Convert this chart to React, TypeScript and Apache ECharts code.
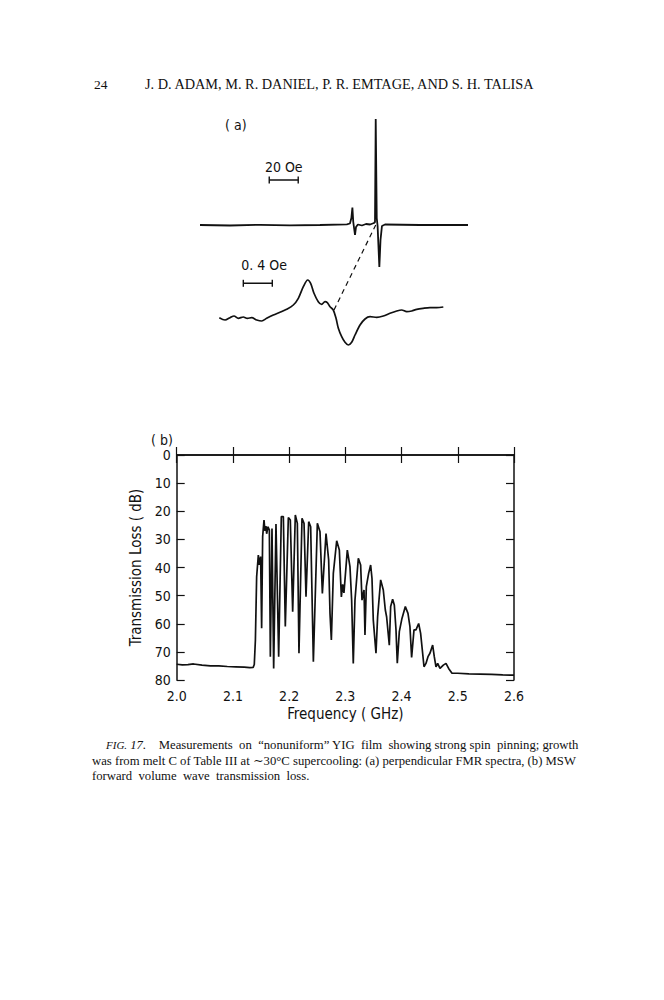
import React, { useEffect, useRef } from "react";
import * as echarts from "echarts";

const LETTER = "'Liberation Sans Narrow', 'DejaVu Sans Condensed', 'Liberation Sans', sans-serif";
const SERIF = "'Liberation Serif', 'DejaVu Serif', serif";

// (a) upper FMR spectrum: field (Oe) vs derivative signal (arb. units)
const upperField = [0, 20.7, 41.4, 62.1, 82.8, 101.4, 103.5, 104.5, 105.2, 105.8, 107, 107.7, 109, 111.8, 114.6, 117.4, 120.1, 120.8, 121.3, 122, 122.6, 123.8, 124.6, 125.6, 127.7, 151.8, 185];
const upperSignal = [0, -0.5, 0.2, -0.3, 0, 0.7, 1.5, 7, 17.5, 3, -10, -2, 0.5, -0.5, 1, 0.5, 2, 3, 106, 7, -1, -42, -15, -1, 0.5, 0, 0];
const upperBar = [47.8, 67.8];
const upperBarLevel = 45;

// (a) lower FMR spectrum (expanded)
const lowerField = [0.018, 0.097, 0.166, 0.221, 0.28, 0.349, 0.405, 0.465, 0.534, 0.603, 0.671, 0.763, 0.855, 0.947, 1.039, 1.108, 1.177, 1.237, 1.278, 1.324, 1.383, 1.43, 1.476, 1.508, 1.545, 1.59, 1.628, 1.66, 1.706, 1.752, 1.797, 1.844, 1.89, 1.959, 2.028, 2.097, 2.189, 2.28, 2.372, 2.465, 2.534, 2.603, 2.672, 2.741, 2.832, 2.924, 3.016, 3.108];
const lowerSignal = [0.3, -2, 0.3, 2, -0.3, 1, -0.3, 0.3, -2, -3, -0.3, 3, 5.7, 8.7, 13, 19.7, 31.3, 38, 34.7, 24.7, 16.3, 13.7, 16.3, 15.3, 11.3, 8, -0.3, -10.3, -18.7, -24.3, -27, -24.3, -17, -7, -1, 1.3, 0.7, 2, 4.7, 7, 8, 6.3, 7, 8.7, 9.7, 10.3, 10.3, 11];
const lowerBar = [0.349, 0.749];
const lowerBarLevel = 34.7;
const dashFromLower = [1.6, 8];
const dashToUpper = [121.3, 0];

// (b) MSW transmission loss
const freqGHz = [
  2.0, 2.01, 2.02, 2.03, 2.045, 2.06, 2.075, 2.09, 2.105, 2.12, 2.13, 2.136, 2.138, 2.14, 2.1422,
  2.1452, 2.147, 2.1493, 2.1511, 2.1529, 2.1553, 2.157, 2.1588, 2.16, 2.1624, 2.1648, 2.1666, 2.1695,
  2.1725, 2.1766, 2.1814, 2.1861, 2.1897, 2.1932, 2.1986, 2.2021, 2.2063, 2.211, 2.2146, 2.2175,
  2.2229, 2.2265, 2.23, 2.2348, 2.2383, 2.2431, 2.2502, 2.2549, 2.2591, 2.2656, 2.2703, 2.2727,
  2.2751, 2.2786, 2.2846, 2.2893, 2.2929, 2.2952, 2.2975, 2.3035, 2.3082, 2.3112, 2.3141, 2.3171,
  2.3231, 2.3272, 2.3296, 2.3332, 2.3349, 2.3373, 2.3414, 2.345, 2.3474, 2.3497, 2.3545, 2.3574,
  2.3628, 2.3675, 2.3711, 2.3734, 2.3782, 2.3806, 2.3841, 2.3871, 2.3901, 2.3924, 2.396, 2.4007,
  2.4067, 2.4114, 2.4149, 2.4179, 2.4221, 2.4256, 2.4304, 2.4339, 2.4375, 2.4399, 2.4434, 2.447,
  2.4505, 2.4553, 2.4582, 2.4612, 2.4642, 2.4683, 2.4743, 2.479, 2.4837, 2.4897, 2.5, 2.52, 2.54,
  2.56, 2.58, 2.6,
];
const lossDb = [
  74.4, 74.6, 74.5, 74.3, 74.7, 75.0, 75.0, 75.2, 75.3, 75.4, 75.6, 75.5, 74.5, 65.8, 43.3,
  35.6, 39.1, 36.1, 61.6, 29, 23.1, 27, 25.3, 28, 25.5, 26.7, 71.7, 26.1,
  75.9, 24.5, 71.7, 21.9, 21.9, 61, 22.2, 23.1, 55.7, 21.3, 24.3, 70.5,
  22.5, 24.3, 50.4, 23.7, 25.5, 73.5, 24.3, 27.3, 49.2, 27.9, 37.3, 56.3,
  65.8, 42.1, 30.5, 33.8, 50.5, 46, 49, 33.8, 39.7, 51.6, 74.1, 51.6,
  36.7, 39.1, 51.6, 48, 64, 46.8, 42.1, 39.1, 43.9, 58.7, 70.5, 57.5,
  44.4, 48, 55.1, 57.5, 67.6, 53.9, 51.3, 53.3, 62.2, 74, 62.8, 58.1,
  53.9, 56.3, 61, 72, 62.2, 62.2, 59.9, 63.4, 70.5, 75.3, 74.1, 71.7,
  70.5, 67.6, 71.7, 75.3, 74.1, 75.9, 74.7, 74.1, 75.9, 77.6, 77.6, 77.8, 77.9,
  78.0, 78.2, 78.3,
];
const freqMin = 2.0;
const freqMax = 2.6;
const freqStep = 0.1;
const lossMin = 0;
const lossMax = 80;
const lossStep = 10;

const zip = (a: number[], b: number[]) => a.map((v, i) => [v, b[i]]);

export default function App() {
  const ref = useRef<HTMLDivElement>(null);
  useEffect(() => {
    const chart = echarts.init(ref.current!, null, { renderer: "svg" });
    const black = "#111";
    const hidden = { show: false };
    const frameAxis = {
      axisLine: { show: true, lineStyle: { color: black, width: 1.5 } },
      axisTick: { show: true, inside: true, length: 8, lineStyle: { color: black, width: 1.2 } },
      splitLine: { show: false },
    };
    chart.setOption({
      animation: false,
      backgroundColor: "#fff",
      grid: [
        { left: 200, top: 115, width: 268, height: 160 },
        { left: 218, top: 270, width: 228, height: 80 },
        { left: 176.7, top: 455, width: 337.3, height: 225 },
      ],
      xAxis: [
        { gridIndex: 0, type: "value", min: 0, max: 185, ...hidden },
        { gridIndex: 1, type: "value", min: 0, max: 3.145, ...hidden },
        {
          gridIndex: 2, type: "value", position: "bottom", min: freqMin, max: freqMax, interval: freqStep,
          ...frameAxis,
          axisLabel: {
            formatter: (v: number) => v.toFixed(1), color: black, fontFamily: LETTER, fontSize: 14, margin: 9,
          },
          name: "Frequency ( GHz)", nameLocation: "middle", nameGap: 26,
          nameTextStyle: { color: black, fontFamily: LETTER, fontSize: 15 },
        },
        {
          gridIndex: 2, type: "value", position: "top", min: freqMin, max: freqMax, interval: freqStep,
          ...frameAxis, axisLabel: { show: false },
        },
      ],
      yAxis: [
        { gridIndex: 0, type: "value", min: -50, max: 110, ...hidden },
        { gridIndex: 1, type: "value", min: -32, max: 48, ...hidden },
        {
          gridIndex: 2, type: "value", position: "left", inverse: true, min: lossMin, max: lossMax, interval: lossStep,
          ...frameAxis,
          axisLabel: { color: black, fontFamily: LETTER, fontSize: 14, margin: 6 },
          name: "Transmission Loss ( dB)", nameLocation: "middle", nameGap: 27, nameRotate: 90,
          nameTextStyle: { color: black, fontFamily: LETTER, fontSize: 15 },
        },
        {
          gridIndex: 2, type: "value", position: "right", inverse: true, min: lossMin, max: lossMax, interval: lossStep,
          ...frameAxis, axisLabel: { show: false },
        },
      ],
      series: [
        {
          type: "line", xAxisIndex: 0, yAxisIndex: 0, data: zip(upperField, upperSignal),
          showSymbol: false, symbol: "none", lineStyle: { color: black, width: 1.8 },
        },
        {
          type: "line", xAxisIndex: 0, yAxisIndex: 0,
          data: upperBar.map((x) => [x, upperBarLevel]),
          symbol: "rect", symbolSize: [1.4, 7], showSymbol: true,
          itemStyle: { color: black }, lineStyle: { color: black, width: 1.4 },
        },
        {
          type: "line", xAxisIndex: 1, yAxisIndex: 1, data: zip(lowerField, lowerSignal), smooth: 0.3,
          showSymbol: false, symbol: "none", lineStyle: { color: black, width: 1.7 },
        },
        {
          type: "line", xAxisIndex: 1, yAxisIndex: 1,
          data: lowerBar.map((x) => [x, lowerBarLevel]),
          symbol: "rect", symbolSize: [1.4, 7], showSymbol: true,
          itemStyle: { color: black }, lineStyle: { color: black, width: 1.4 },
        },
        {
          type: "line", xAxisIndex: 2, yAxisIndex: 2, data: zip(freqGHz, lossDb),
          showSymbol: false, symbol: "none", lineStyle: { color: black, width: 1.7 },
        },
      ],
    });

    const px = (i: number, pt: number[]) =>
      chart.convertToPixel({ xAxisIndex: i, yAxisIndex: i }, pt) as number[];
    const d0 = px(1, dashFromLower);
    const d1 = px(0, dashToUpper);
    const ub = px(0, [(upperBar[0] + upperBar[1]) / 2, upperBarLevel]);
    const lb = px(1, [lowerBar[0], lowerBarLevel]);

    const txt = (text: string, x: number, y: number, font: string, size: number, align = "left", extra: any = {}) => ({
      type: "text", x, y,
      style: { text, fill: black, fontFamily: font, fontSize: size, align, verticalAlign: "middle", ...extra },
    });

    chart.setOption({
      graphic: [
        txt("24", 94, 84, SERIF, 13.5),
        txt("J. D. ADAM, M. R. DANIEL, P. R. EMTAGE, AND S. H. TALISA", 145, 84, SERIF, 14.3),
        txt("( a)", 225, 125, LETTER, 14),
        txt("( b)", 151, 440, LETTER, 14),
        txt("20 Oe", ub[0], ub[1] - 13, LETTER, 14, "center"),
        txt("0. 4 Oe", lb[0] - 2, lb[1] - 18, LETTER, 14),
        {
          type: "line",
          shape: { x1: d0[0], y1: d0[1], x2: d1[0], y2: d1[1] },
          style: { stroke: black, lineWidth: 1.2, lineDash: [5, 4] },
        },
        {
          type: "text", x: 106, y: 745,
          style: {
            text: "{f|FIG.}{n| 17.}    Measurements  on  \u201Cnonuniform\u201D YIG  film  showing strong spin  pinning; growth",
            fill: black, fontFamily: SERIF, fontSize: 12.7, verticalAlign: "middle",
            rich: {
              f: { fontFamily: SERIF, fontSize: 11, fontStyle: "italic", fill: black },
              n: { fontFamily: SERIF, fontSize: 12.7, fontStyle: "italic", fill: black },
            },
          },
        },
        txt("was from melt C of Table III at \u223C30\u00B0C supercooling: (a) perpendicular FMR spectra, (b) MSW", 92, 761, SERIF, 12.7),
        txt("forward  volume  wave  transmission  loss.", 92, 776, SERIF, 12.7),
      ],
    });
    return () => chart.dispose();
  }, []);
  return (
    <div
      ref={ref}
      style={{ position: "fixed", left: 0, top: 0, width: 664, height: 1000, background: "#fff" }}
    />
  );
}
